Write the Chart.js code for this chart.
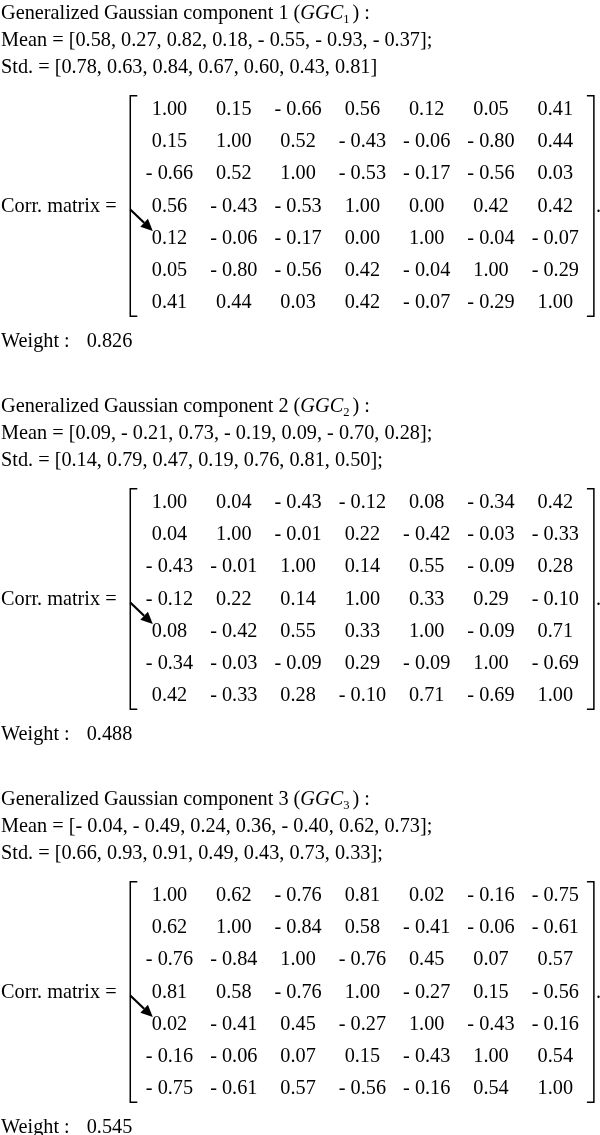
<!DOCTYPE html>
<html><head><meta charset="utf-8">
<script src="https://cdn.jsdelivr.net/npm/chart.js@4/dist/chart.umd.min.js"></script>
<style>
html,body{margin:0;padding:0;background:#fff;}
.sec{position:relative;width:600px;overflow:hidden;}
canvas{display:block;}
</style></head><body>
<div class="sec" style="height:393px"><canvas id="c1" width="600" height="393"></canvas></div>
<div class="sec" style="height:393px"><canvas id="c2" width="600" height="393"></canvas></div>
<div class="sec" style="height:349px"><canvas id="c3" width="600" height="349"></canvas></div>
<script>
// ---- data ----
const componentIds = ['1', '2', '3'];
const mean1 = [0.58, 0.27, 0.82, 0.18, -0.55, -0.93, -0.37];
const std1 = [0.78, 0.63, 0.84, 0.67, 0.60, 0.43, 0.81];
const corr1 = [
  [1.00, 0.15, -0.66, 0.56, 0.12, 0.05, 0.41],
  [0.15, 1.00, 0.52, -0.43, -0.06, -0.80, 0.44],
  [-0.66, 0.52, 1.00, -0.53, -0.17, -0.56, 0.03],
  [0.56, -0.43, -0.53, 1.00, 0.00, 0.42, 0.42],
  [0.12, -0.06, -0.17, 0.00, 1.00, -0.04, -0.07],
  [0.05, -0.80, -0.56, 0.42, -0.04, 1.00, -0.29],
  [0.41, 0.44, 0.03, 0.42, -0.07, -0.29, 1.00]
];
const weight1 = 0.826;

const mean2 = [0.09, -0.21, 0.73, -0.19, 0.09, -0.70, 0.28];
const std2 = [0.14, 0.79, 0.47, 0.19, 0.76, 0.81, 0.50];
const corr2 = [
  [1.00, 0.04, -0.43, -0.12, 0.08, -0.34, 0.42],
  [0.04, 1.00, -0.01, 0.22, -0.42, -0.03, -0.33],
  [-0.43, -0.01, 1.00, 0.14, 0.55, -0.09, 0.28],
  [-0.12, 0.22, 0.14, 1.00, 0.33, 0.29, -0.10],
  [0.08, -0.42, 0.55, 0.33, 1.00, -0.09, 0.71],
  [-0.34, -0.03, -0.09, 0.29, -0.09, 1.00, -0.69],
  [0.42, -0.33, 0.28, -0.10, 0.71, -0.69, 1.00]
];
const weight2 = 0.488;

const mean3 = [-0.04, -0.49, 0.24, 0.36, -0.40, 0.62, 0.73];
const std3 = [0.66, 0.93, 0.91, 0.49, 0.43, 0.73, 0.33];
const corr3 = [
  [1.00, 0.62, -0.76, 0.81, 0.02, -0.16, -0.75],
  [0.62, 1.00, -0.84, 0.58, -0.41, -0.06, -0.61],
  [-0.76, -0.84, 1.00, -0.76, 0.45, 0.07, 0.57],
  [0.81, 0.58, -0.76, 1.00, -0.27, 0.15, -0.56],
  [0.02, -0.41, 0.45, -0.27, 1.00, -0.43, -0.16],
  [-0.16, -0.06, 0.07, 0.15, -0.43, 1.00, 0.54],
  [-0.75, -0.61, 0.57, -0.56, -0.16, 0.54, 1.00]
];
const weight3 = 0.545;
const stdTerminators = ['', ';', ';'];

const comps = [
  {id: componentIds[0], mean: mean1, std: std1, corr: corr1, weight: weight1, stdEnd: stdTerminators[0], canvas: 'c1'},
  {id: componentIds[1], mean: mean2, std: std2, corr: corr2, weight: weight2, stdEnd: stdTerminators[1], canvas: 'c2'},
  {id: componentIds[2], mean: mean3, std: std3, corr: corr3, weight: weight3, stdEnd: stdTerminators[2], canvas: 'c3'}
];

// ---- layout (pixels per unit) ----
const COL_PX = 64.3, COL0_PX = 169.5;
const ROW_PX = 32.2, ROW0_PX = 108;
const FONT = '"Liberation Serif", "Times New Roman", serif';
const FS = 21, SX = 0.965;

function fmt(v) {
  return v < 0 ? '- ' + Math.abs(v).toFixed(2) : v.toFixed(2);
}

// draw text condensed horizontally; returns advance width
function txt(ctx, s, x, y, align) {
  const w = ctx.measureText(s).width * SX;
  let x0 = x;
  if (align === 'center') x0 = x - w / 2;
  ctx.save();
  ctx.translate(x0, y);
  ctx.scale(SX, 1);
  ctx.textAlign = 'left';
  ctx.fillText(s, 0, 0);
  ctx.restore();
  return w;
}

const textPlugin = {
  id: 'matrixText',
  afterDatasetsDraw(chart, args, opts) {
    const c = opts.comp;
    const ctx = chart.ctx;
    const xs = chart.scales.x, ys = chart.scales.y;
    const rowY = r => ys.getPixelForValue(r) + 7;
    ctx.save();
    ctx.fillStyle = '#000';
    ctx.strokeStyle = '#000';
    ctx.textBaseline = 'alphabetic';
    const F = FS + 'px ' + FONT;
    ctx.font = F;
    // cells
    const meta = chart.getDatasetMeta(0);
    meta.data.forEach((pt, i) => {
      const raw = chart.data.datasets[0].data[i];
      txt(ctx, fmt(raw.v), pt.x, pt.y + 7, 'center');
    });
    // title
    let x = 1, y = rowY(-2.98);
    x += txt(ctx, 'Generalized Gaussian component ' + c.id + ' (', x, y);
    ctx.font = 'italic ' + F;
    x += txt(ctx, 'GGC', x, y);
    ctx.font = '13px ' + FONT;
    x += txt(ctx, c.id, x, y + 4) + 3;
    ctx.font = F;
    txt(ctx, ') :', x, y);
    // mean / std
    txt(ctx, 'Mean = [' + c.mean.map(fmt).join(', ') + '];', 1, rowY(-2.15));
    txt(ctx, 'Std. = [' + c.std.map(v => v.toFixed(2)).join(', ') + ']' + c.stdEnd, 1, rowY(-1.31));
    // corr label
    txt(ctx, 'Corr. matrix =', 1, rowY(3));
    // weight
    const ww = txt(ctx, 'Weight :', 1, rowY(7.2));
    txt(ctx, c.weight.toFixed(3), 1 + ww + 17, rowY(7.2));
    // brackets
    const xl = xs.getPixelForValue(-0.61), xr = xs.getPixelForValue(6.60);
    const yt = ys.getPixelForValue(-0.38), yb = ys.getPixelForValue(6.47);
    ctx.lineWidth = 1.5;
    ctx.beginPath();
    ctx.moveTo(xl + 7, yt); ctx.lineTo(xl, yt); ctx.lineTo(xl, yb); ctx.lineTo(xl + 7, yb);
    ctx.moveTo(xr - 7, yt); ctx.lineTo(xr, yt); ctx.lineTo(xr, yb); ctx.lineTo(xr - 7, yb);
    ctx.stroke();
    txt(ctx, '.', xr + 2, rowY(3));
    // arrow
    const ax0 = xs.getPixelForValue(-0.61), ay0 = ys.getPixelForValue(3.15);
    const ax1 = xs.getPixelForValue(-0.26), ay1 = ys.getPixelForValue(3.82);
    const ang = Math.atan2(ay1 - ay0, ax1 - ax0);
    const hl = 12, hw = 5.5;
    const bx = ax1 - hl * Math.cos(ang), by = ay1 - hl * Math.sin(ang);
    ctx.lineWidth = 2.2;
    ctx.beginPath(); ctx.moveTo(ax0, ay0); ctx.lineTo(bx, by); ctx.stroke();
    ctx.beginPath();
    ctx.moveTo(ax1, ay1);
    ctx.lineTo(bx + hw * Math.sin(ang), by - hw * Math.cos(ang));
    ctx.lineTo(bx - hw * Math.sin(ang), by + hw * Math.cos(ang));
    ctx.closePath(); ctx.fill();
    ctx.restore();
  }
};

comps.forEach(c => {
  const cv = document.getElementById(c.canvas);
  const W = cv.width, H = cv.height;
  const xMin = -COL0_PX / COL_PX, xMax = xMin + W / COL_PX;
  const yMin = -ROW0_PX / ROW_PX, yMax = yMin + H / ROW_PX;
  const pts = [];
  c.corr.forEach((row, r) => row.forEach((v, k) => pts.push({x: k, y: r, v: v})));
  new Chart(cv, {
    type: 'scatter',
    data: {datasets: [{data: pts, pointRadius: 0, pointHoverRadius: 0, borderWidth: 0}]},
    options: {
      responsive: false, animation: false,
      layout: {padding: 0, autoPadding: false},
      events: [],
      scales: {
        x: {type: 'linear', min: xMin, max: xMax, display: false},
        y: {type: 'linear', min: yMin, max: yMax, reverse: true, display: false}
      },
      plugins: {legend: {display: false}, tooltip: {enabled: false}, matrixText: {comp: c}}
    },
    plugins: [textPlugin]
  });
});
</script>
</body></html>
